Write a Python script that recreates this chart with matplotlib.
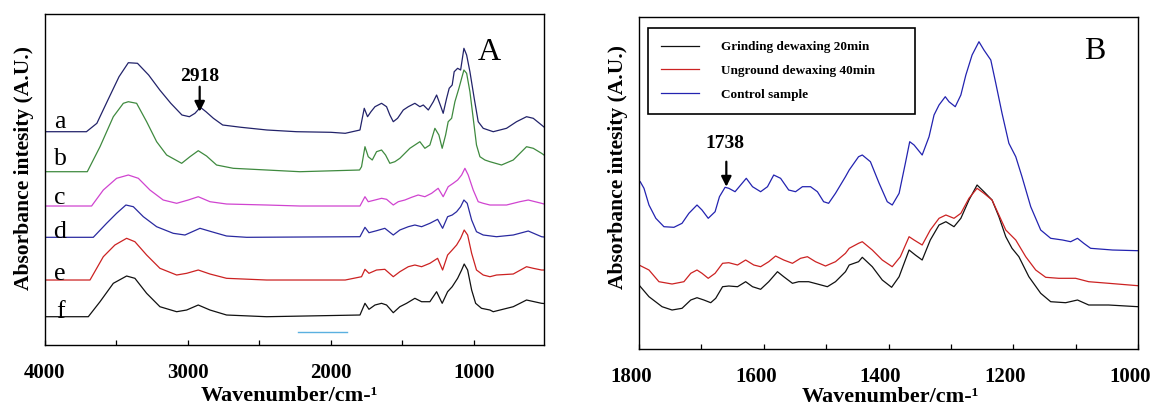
import matplotlib
matplotlib.use("Agg")
import matplotlib.pyplot as plt
from matplotlib.ticker import MultipleLocator
from matplotlib.transforms import ScaledTranslation

plt.rcParams['font.family'] = ['Liberation Serif', 'DejaVu Serif']

# Panel A: FTIR spectra a-f, (wavenumber, stacked absorbance) pairs
trace_a = [(4000, 213.3), (3710, 213.3), (3637, 221.7), (3560, 245), (3482, 268.3),
           (3417, 282.3), (3353, 281.7), (3275, 270), (3197, 255), (3120, 241.7),
           (3042, 230), (2990, 228.3), (2951, 231.7), (2913, 237.7), (2874, 233.3),
           (2822, 226.7), (2757, 220), (2628, 217.7), (2447, 215), (2240, 213.3),
           (2000, 212.7), (1900, 211.7), (1797, 215), (1767, 236.7), (1744, 228.3),
           (1720, 233.3), (1692, 238.3), (1646, 241.7), (1611, 238.3), (1588, 230),
           (1564, 223.3), (1534, 226.7), (1518, 230), (1494, 235), (1459, 238.3),
           (1436, 240), (1413, 241.7), (1378, 238.3), (1354, 240), (1319, 235),
           (1284, 243.3), (1261, 250), (1231, 238.3), (1215, 231.7), (1191, 246.7),
           (1173, 256.7), (1152, 260), (1138, 273.3), (1114, 276.7), (1093, 275),
           (1070, 296.7), (1051, 290), (1028, 273.3), (998, 246.7), (970, 223.3),
           (935, 216.7), (865, 213.3), (772, 216.7), (702, 223.3), (632, 228.3),
           (585, 226.7), (527, 220), (510, 218)]

trace_b = [(4000, 173.3), (3704, 173.3), (3615, 198.3), (3522, 228.3), (3452, 241.7),
           (3417, 243.3), (3359, 241.7), (3289, 223.3), (3219, 203.3), (3149, 190),
           (3044, 181.7), (2986, 188.3), (2928, 194.3), (2870, 189), (2800, 180),
           (2683, 176.7), (2450, 175), (2217, 173.3), (1800, 175), (1786, 178.3),
           (1762, 198.3), (1739, 188.3), (1711, 185), (1681, 193.3), (1646, 195),
           (1618, 190), (1588, 181.7), (1553, 183.3), (1518, 186.7), (1483, 191.7),
           (1448, 196.7), (1413, 200), (1378, 203.3), (1343, 196.7), (1308, 200),
           (1273, 216.7), (1245, 210), (1222, 196.7), (1198, 210), (1180, 223.3),
           (1156, 226.7), (1133, 243.3), (1105, 256.7), (1086, 266.7), (1070, 275),
           (1051, 271.7), (1028, 253.3), (1005, 226.7), (982, 200), (958, 188.3),
           (923, 185), (888, 183.3), (807, 180), (725, 185), (632, 198.3),
           (585, 196.7), (527, 191.7), (510, 190)]

trace_c = [(4000, 139), (3674, 139), (3592, 155), (3499, 166.7), (3417, 170),
           (3347, 166.7), (3266, 155), (3173, 145), (3079, 141.7), (2998, 145),
           (2928, 148.3), (2846, 143.3), (2730, 141), (2450, 140), (2217, 139),
           (1797, 139), (1762, 148.3), (1739, 143.3), (1692, 145), (1646, 146.7),
           (1611, 145.7), (1564, 140), (1529, 143.3), (1483, 145), (1436, 147.7),
           (1390, 150), (1343, 148.3), (1296, 151.7), (1250, 156.7), (1215, 148.3),
           (1180, 158.3), (1145, 161.7), (1114, 165), (1086, 170), (1063, 176.7),
           (1040, 170), (1005, 155), (970, 143.3), (935, 141.7), (888, 140),
           (772, 140), (679, 143.3), (620, 145), (527, 141.7), (510, 141)]

trace_d = [(4000, 107.7), (3662, 107.7), (3569, 121.7), (3499, 131.7), (3434, 140),
           (3382, 138.3), (3312, 128.3), (3219, 118.3), (3103, 111.7), (3021, 110),
           (2916, 116.7), (2835, 113.3), (2730, 109), (2590, 107.7), (1797, 108.3),
           (1762, 117.7), (1734, 112.3), (1681, 114.3), (1623, 116.7), (1564, 110),
           (1518, 115), (1459, 118.3), (1413, 120), (1366, 118.3), (1308, 121.7),
           (1254, 125.7), (1219, 116.7), (1184, 128.3), (1152, 130), (1121, 133.3),
           (1093, 138.3), (1070, 145), (1047, 141.7), (1016, 125), (982, 113.3),
           (935, 110), (842, 108.3), (725, 110), (620, 114), (527, 108.3), (510, 108)]

trace_e = [(4000, 65), (3685, 65), (3592, 88.3), (3511, 100), (3429, 106.7),
           (3371, 103.3), (3289, 90), (3196, 76.7), (3079, 70), (3009, 71.7),
           (2928, 75), (2846, 71), (2730, 66.7), (2450, 65), (1900, 65),
           (1786, 68.3), (1762, 75.7), (1734, 71.7), (1681, 75), (1623, 75.7),
           (1564, 68.3), (1518, 73.3), (1459, 78.3), (1413, 80), (1366, 78.3),
           (1308, 81.7), (1254, 86.7), (1219, 75), (1184, 90), (1152, 95),
           (1121, 100), (1093, 106.7), (1068, 115), (1044, 110), (1016, 91.7),
           (982, 75), (935, 70), (888, 68.3), (842, 70), (725, 71),
           (632, 78.3), (585, 76.7), (527, 75), (510, 75)]

trace_f = [(4000, 28.3), (3697, 28.3), (3615, 43.3), (3522, 61.7), (3429, 69),
           (3371, 66.7), (3289, 51.7), (3196, 38.3), (3079, 33.3), (3009, 35),
           (2928, 40), (2846, 35), (2730, 30), (2450, 28.3), (1797, 30),
           (1762, 41.7), (1734, 35.7), (1692, 40), (1646, 41.7), (1611, 40),
           (1564, 32.3), (1518, 38.3), (1471, 41.7), (1413, 46.7), (1366, 43.3),
           (1308, 43.3), (1261, 53.3), (1222, 41.7), (1184, 53.3), (1152, 58.3),
           (1114, 66.7), (1086, 75), (1068, 81), (1044, 75), (1016, 55),
           (988, 41.7), (947, 36.7), (888, 35), (865, 33.3), (725, 38.3),
           (632, 45), (527, 41.7), (510, 41.5)]

traces_a = [trace_a, trace_b, trace_c, trace_d, trace_e, trace_f]
trace_names = ['a', 'b', 'c', 'd', 'e', 'f']
trace_colors = ['#22236a', '#3f8a3f', '#d044d0', '#2a2aa0', '#cc2222', '#111111']
label_heights = [216.7, 180, 141, 106.7, 65, 26.7]

# short stray line near the bottom of panel A
stray_wn = [2227, 1890]
stray_val = [13.3, 13.3]

# Panel B: 1800-1000 cm-1 region
grinding_20 = [(1800, 64), (1784, 52.3), (1763, 42.3), (1747, 39), (1731, 40.7),
               (1717, 49), (1707, 51.3), (1696, 49), (1685, 46.3), (1677, 50.7),
               (1666, 62.3), (1656, 63), (1642, 62.3), (1629, 67.3), (1618, 62.3),
               (1605, 59.7), (1592, 67.3), (1578, 77.3), (1568, 72.3), (1554, 65.7),
               (1544, 67.3), (1528, 67.3), (1514, 65), (1498, 62.3), (1485, 67.3),
               (1469, 77.3), (1463, 84), (1448, 87.3), (1442, 91.7), (1426, 82.3),
               (1410, 69), (1395, 61.7), (1383, 72.3), (1367, 99), (1357, 94),
               (1346, 89), (1333, 109), (1319, 124), (1308, 127.3), (1295, 122.3),
               (1284, 130.7), (1271, 149), (1258, 164), (1247, 157.3), (1234, 149),
               (1223, 132.3), (1212, 112.3), (1202, 100.7), (1191, 92.3), (1175, 72.3),
               (1156, 55.7), (1140, 47.3), (1116, 46.3), (1097, 49), (1079, 44),
               (1047, 44), (1000, 42.3)]

unground_40 = [(1800, 84), (1784, 79), (1768, 67.3), (1747, 65), (1728, 67.3),
               (1717, 75.7), (1707, 79), (1699, 75.7), (1689, 70.7), (1678, 75.7),
               (1666, 85.7), (1656, 86.3), (1642, 84), (1629, 89), (1616, 84),
               (1605, 82.3), (1592, 87.3), (1581, 93), (1568, 89), (1554, 85.7),
               (1541, 90.7), (1530, 92.3), (1517, 87.3), (1501, 83), (1485, 87.3),
               (1469, 95.7), (1463, 100.7), (1448, 105.7), (1442, 107.3), (1426, 99),
               (1410, 89), (1394, 82.3), (1381, 92.3), (1367, 112.3), (1359, 109),
               (1346, 104), (1333, 119), (1319, 130.7), (1308, 134), (1295, 130.7),
               (1284, 135.7), (1271, 150.7), (1258, 160.7), (1247, 155.7), (1234, 149),
               (1223, 134), (1212, 119), (1196, 109), (1180, 92.3), (1164, 79),
               (1148, 71.7), (1127, 70.7), (1100, 70.7), (1079, 67.3), (1047, 65.7),
               (1000, 63.3)]

control = [(1800, 168), (1798, 167.3), (1792, 160.7), (1784, 144), (1773, 130.7),
           (1760, 122.3), (1744, 121.7), (1731, 125.7), (1720, 135.7), (1707, 144),
           (1699, 139), (1689, 130.7), (1678, 137.3), (1671, 152.3), (1662, 161.7),
           (1656, 160.7), (1646, 157.3), (1637, 164), (1628, 170.7), (1618, 162.3),
           (1605, 157.3), (1594, 162.3), (1584, 174), (1573, 170.7), (1560, 159),
           (1549, 157.3), (1538, 162.3), (1525, 162.3), (1514, 157.3), (1504, 147.3),
           (1496, 145.7), (1485, 155.7), (1469, 172.3), (1463, 179), (1448, 192.3),
           (1442, 194), (1429, 187.3), (1415, 165.7), (1402, 147.3), (1394, 144),
           (1383, 155.7), (1373, 185.7), (1366, 207.3), (1359, 204), (1346, 194),
           (1335, 212.3), (1327, 234), (1319, 244), (1309, 252.3), (1303, 247.3),
           (1293, 242.3), (1284, 254), (1276, 274), (1266, 294), (1255, 307.3),
           (1247, 299), (1236, 289), (1228, 265.7), (1218, 235.7), (1207, 205.7),
           (1196, 192.3), (1186, 172.3), (1172, 142.3), (1156, 119), (1140, 110.7),
           (1121, 109), (1108, 107.3), (1097, 110.7), (1087, 105.7), (1076, 100.7),
           (1041, 99), (1000, 98.3)]

series_b = [grinding_20, unground_40, control]
series_b_names = ['Grinding dewaxing 20min', 'Unground dewaxing 40min', 'Control sample']
series_b_colors = ['#111111', '#cc2222', '#2323b0']

peak_a_label = '2918'
peak_a_pos = 2918
peak_b_label = '1738'
peak_b_pos = 1660


def style_axis(ax, major, minor):
    for sp in ax.spines.values():
        sp.set_linewidth(1.0)
        sp.set_color('black')
    ax.xaxis.set_major_locator(MultipleLocator(major))
    ax.xaxis.set_minor_locator(MultipleLocator(minor))
    ax.tick_params(axis='x', which='both', direction='in', length=3.8, width=0.9,
                   top=False, pad=13, labelsize=15)
    ax.tick_params(axis='y', which='both', left=False, labelleft=False)
    for lab in ax.get_xticklabels():
        lab.set_fontweight('bold')
    ax.set_xlabel('Wavenumber/cm-\u00b9', fontsize=16, fontweight='bold')
    ax.set_ylabel('Absorbance intesity (A.U.)', fontsize=15.5, fontweight='bold')


fig = plt.figure(figsize=(11.53, 4.07), dpi=100)

# ---- panel A ----
ax1 = fig.add_axes([0.039, 0.1523, 0.4328, 0.8133])
for tr, col in zip(traces_a, trace_colors):
    wn, val = zip(*tr)
    ax1.plot(wn, val, color=col, lw=0.9)
ax1.plot(stray_wn, stray_val, color='#5ab0e0', lw=1.0)
ax1.set_xlim(4000, 510)
ax1.set_ylim(0, 331)
style_axis(ax1, 1000, 500)
ax1.xaxis.set_label_coords(0.49, -0.125)
ax1.yaxis.set_label_coords(-0.021, 0.535)

for name, h in zip(trace_names, label_heights):
    ax1.text(3895, h, name, fontsize=18.5, ha='center', va='baseline')
ax1.text(0.89, 0.885, 'A', transform=ax1.transAxes, fontsize=23,
         ha='center', va='center')
ax1.annotate('', xy=(peak_a_pos, 233.3), xytext=(peak_a_pos, 258.3),
             arrowprops=dict(arrowstyle='-|>,head_width=0.3,head_length=0.6',
                             color='black', lw=1.6, shrinkA=0, shrinkB=0))
ax1.text(peak_a_pos, 268.3, peak_a_label, fontsize=14, fontweight='bold',
         ha='center', va='center')

# ---- panel B ----
ax2 = fig.add_axes([0.5542, 0.1425, 0.4328, 0.8157])
for tr, name, col in zip(series_b, series_b_names, series_b_colors):
    wn, val = zip(*tr)
    ax2.plot(wn, val, color=col, lw=0.9, label=name)
ax2.set_xlim(1800, 1000)
ax2.set_ylim(0, 332)
style_axis(ax2, 200, 100)
ax2.xaxis.set_label_coords(0.503, -0.113)
ax2.yaxis.set_label_coords(-0.022, 0.548)

leg = ax2.legend(loc='upper left', bbox_to_anchor=(0.018, 0.729, 0.535, 0.238),
                 mode='expand', borderaxespad=0, fancybox=False, framealpha=1,
                 edgecolor='black', handlelength=2.9, handletextpad=1.65,
                 labelspacing=0.86, borderpad=1.0,
                 prop={'size': 9.5, 'weight': 'bold'})
leg.get_frame().set_linewidth(1.2)

ax2.text(0.9125, 0.895, 'B', transform=ax2.transAxes, fontsize=23,
         ha='center', va='center')
ax2.annotate('', xy=(peak_b_pos, 162.3), xytext=(peak_b_pos, 187.3),
             arrowprops=dict(arrowstyle='-|>,head_width=0.3,head_length=0.6',
                             color='black', lw=1.6, shrinkA=0, shrinkB=0))
ax2.text(peak_b_pos + 2, 205.7, peak_b_label, fontsize=14, fontweight='bold',
         ha='center', va='center')

# tick labels of panel B sit slightly left of their ticks
fig.canvas.draw()
shift = ScaledTranslation(-8 / 100, 0, fig.dpi_scale_trans)
for tick in ax2.xaxis.get_major_ticks():
    tick.label1.set_transform(tick.label1.get_transform() + shift)

fig.savefig('out.png', dpi=100)
